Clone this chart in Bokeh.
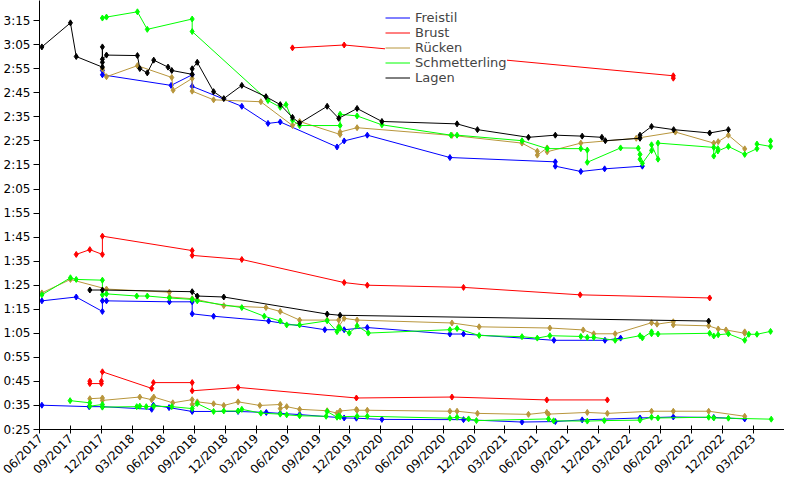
import math
from datetime import datetime
import pandas as pd
from bokeh.plotting import figure
from bokeh.models import (ColumnDataSource, FixedTicker, CustomJSTickFormatter,
                          DatetimeTickFormatter, Legend, LegendItem, Range1d)
from bokeh.embed import file_html
from bokeh.resources import INLINE

# ---------------- data (times in seconds) ----------------
strokes = ["Freistil", "Brust", "Rücken", "Schmetterling", "Lagen"]
stroke_colors = ["#0000ff", "#ff0000", "#b8963c", "#00ff00", "#000000"]

# Freistil
fr50_dates = ["2017-06-08", "2017-10-25", "2017-12-03", "2018-04-27", "2018-05-02", "2018-06-17",
              "2018-08-24", "2019-01-06", "2019-03-30", "2019-05-10", "2019-07-06", "2019-11-14",
              "2019-12-20", "2020-03-04", "2020-10-30", "2021-04-20", "2021-07-27", "2021-10-14",
              "2022-04-02", "2022-07-09", "2022-11-05", "2023-02-04"]
fr50_times = [35.1, 34.5, 34.5, 33.4, 35.1, 34.1, 32.5, 32.5, 32.1, 31.7, 31.2, 29.8,
              29.7, 29.2, 29.1, 28.1, 28.3, 29.0, 29.8, 30.2, 30.0, 29.4]
fr100_dates = ["2017-06-08", "2017-09-17", "2017-12-03", "2017-12-03", "2017-12-15", "2018-06-18",
               "2018-08-24", "2018-08-24", "2018-10-26", "2019-04-06", "2019-09-18", "2019-11-14",
               "2020-01-21", "2020-09-20", "2020-10-30", "2021-07-23", "2021-12-20", "2022-02-04"]
fr100_times = [78.5, 80.1, 74.1, 78.5, 78.5, 78.1, 78.1, 73.1, 72.1, 70.1, 66.5, 66.5,
               67.4, 64.7, 64.7, 62.1, 62.1, 63.0]
fr200_dates = ["2017-12-03", "2017-12-03", "2018-06-23", "2018-08-24", "2018-08-24", "2019-01-17",
               "2019-04-04", "2019-05-10", "2019-10-24", "2019-11-14", "2020-01-21", "2020-09-20",
               "2021-07-27", "2021-07-27", "2021-10-10", "2021-12-19", "2022-04-09"]
fr200_times = [174.3, 172.5, 168.1, 172.5, 167.7, 159.4, 152.3, 152.9, 142.5, 145.0, 147.4, 138.1,
               136.3, 134.5, 132.3, 133.4, 134.5]

# Brust
br50_dates = ["2017-10-27", "2017-10-27", "2017-11-30", "2017-11-30", "2017-12-03", "2018-04-27",
              "2018-05-02", "2018-08-24", "2018-08-24", "2019-01-06", "2019-12-20", "2020-09-26",
              "2021-07-02", "2021-12-27"]
br50_times = [45.1, 44.1, 44.1, 45.1, 49.0, 42.1, 44.5, 44.5, 41.1, 42.5, 38.1, 38.5, 37.3, 37.3]
br100_dates = ["2017-09-17", "2017-10-27", "2017-12-03", "2017-12-03", "2018-08-24", "2018-08-24",
               "2019-01-17", "2019-11-14", "2020-01-21", "2020-10-30", "2021-10-08", "2022-10-24"]
br100_times = [97.8, 99.8, 97.8, 105.4, 99.4, 97.4, 95.7, 86.1, 85.0, 84.1, 81.0, 79.7]
br200_dates = ["2019-06-15", "2019-11-14", "2022-07-09", "2022-07-09"]
br200_times = [183.7, 184.9, 172.1, 171.1]

# Rücken
ru50_dates = ["2017-10-27", "2017-12-03", "2017-12-03", "2018-03-23", "2018-04-27", "2018-05-03",
              "2018-06-28", "2018-08-24", "2018-08-24", "2018-09-08", "2018-10-26", "2018-11-25",
              "2019-01-06", "2019-03-11", "2019-05-10", "2019-05-10", "2019-05-29", "2019-07-06",
              "2019-09-25", "2019-10-24", "2019-11-02", "2019-12-20", "2019-12-22", "2020-01-21",
              "2020-09-20", "2020-10-11", "2020-12-10", "2021-05-09", "2021-07-02", "2021-07-07",
              "2021-10-29", "2021-12-27", "2022-05-06", "2022-07-09", "2022-10-21", "2023-02-04"]
ru50_times = [37.8, 38.1, 37.1, 38.5, 37.4, 38.5, 36.1, 37.4, 35.4, 36.5, 35.7, 35.0,
              36.5, 35.0, 35.4, 33.7, 34.5, 33.4, 32.8, 31.8, 32.7, 33.3, 33.0, 33.0,
              32.6, 32.6, 31.7, 31.3, 32.1, 31.4, 32.1, 31.7, 32.6, 32.6, 32.6, 30.5]
ru100_dates = ["2017-06-08", "2017-08-31", "2017-12-15", "2018-06-18", "2018-06-18", "2018-08-24",
               "2018-09-08", "2018-11-25", "2019-03-29", "2019-05-10", "2019-07-06", "2019-09-25",
               "2019-10-29", "2019-10-29", "2019-11-14", "2019-12-22", "2020-09-26", "2020-12-15",
               "2021-07-11", "2021-10-17", "2021-11-17", "2022-01-19", "2022-05-06", "2022-05-22",
               "2022-07-09", "2022-07-09", "2022-10-21", "2022-11-18", "2022-12-11", "2023-02-04",
               "2023-02-04"]
ru100_times = [81.8, 87.4, 83.4, 82.1, 80.1, 79.4, 79.0, 76.5, 75.7, 74.1, 70.5, 70.5,
               70.5, 67.8, 71.2, 70.5, 69.3, 67.7, 67.2, 66.4, 64.8, 64.8, 69.4, 68.8,
               69.8, 68.5, 68.1, 66.8, 66.4, 65.0, 65.6]
ru200_dates = ["2017-12-03", "2017-12-15", "2018-03-16", "2018-06-25", "2018-06-29", "2018-08-24",
               "2018-08-24", "2018-10-26", "2019-03-14", "2019-06-15", "2019-07-06", "2019-11-02",
               "2019-11-02", "2019-12-22", "2020-09-26", "2021-04-20", "2021-06-04", "2021-06-04",
               "2021-07-03", "2021-07-03", "2021-10-10", "2022-03-22", "2022-07-15", "2022-11-05",
               "2022-11-18", "2022-12-18", "2023-02-04"]
ru200_times = [175.0, 171.7, 176.3, 171.4, 166.1, 171.0, 165.7, 162.1, 161.3, 151.4, 153.1, 147.7,
               148.7, 150.5, 147.3, 144.1, 140.7, 139.1, 142.1, 140.5, 144.1, 146.1, 148.7, 144.1,
               144.7, 147.4, 141.7]

# Schmetterling
sc50_dates = ["2017-08-30", "2017-10-27", "2017-10-27", "2017-12-03", "2017-12-03", "2018-03-14",
              "2018-03-23", "2018-04-11", "2018-05-03", "2018-06-25", "2018-08-24", "2018-09-08",
              "2018-10-26", "2018-11-25", "2019-01-06", "2019-01-17", "2019-03-14", "2019-05-10",
              "2019-05-29", "2019-07-06", "2019-09-22", "2019-09-25", "2019-10-24", "2019-10-29",
              "2019-11-02", "2019-12-22", "2020-01-21", "2020-09-20", "2020-10-11", "2020-11-14",
              "2020-12-07", "2021-07-07", "2021-07-22", "2021-10-29", "2021-12-18", "2022-04-02",
              "2022-05-06", "2022-05-25", "2022-10-21", "2022-11-05", "2022-12-18", "2023-04-23"]
sc50_times = [37.0, 36.1, 34.7, 35.4, 34.3, 34.5, 34.7, 34.5, 34.7, 34.5, 33.7, 35.8,
              32.5, 32.7, 32.7, 33.4, 31.8, 31.4, 31.1, 30.7, 30.5, 32.5, 30.1, 30.7,
              30.3, 30.5, 30.5, 29.7, 30.1, 29.4, 28.7, 29.4, 28.6, 28.5, 28.7, 28.9,
              30.1, 29.8, 30.1, 29.8, 29.7, 29.3]
sc100_dates = ["2017-06-08", "2017-08-31", "2017-09-17", "2017-12-03", "2017-12-03", "2017-12-15",
               "2018-03-14", "2018-04-14", "2018-06-18", "2018-08-24", "2018-09-08", "2019-01-17",
               "2019-03-24", "2019-05-10", "2019-05-29", "2019-07-06", "2019-09-25", "2019-10-24",
               "2019-10-29", "2019-11-02", "2019-11-29", "2019-12-22", "2020-01-24", "2020-09-20",
               "2020-10-11", "2020-12-15", "2021-04-20", "2021-06-04", "2021-07-11", "2021-10-10",
               "2021-10-29", "2021-11-17", "2022-01-19", "2022-04-02", "2022-04-09", "2022-05-06",
               "2022-05-06", "2022-05-25", "2022-10-24", "2022-11-05", "2022-11-18", "2022-12-18",
               "2023-02-04", "2023-02-16", "2023-03-12", "2023-04-21"]
sc100_times = [81.0, 88.1, 87.4, 87.1, 81.0, 81.4, 80.5, 80.5, 79.7, 79.1, 78.5, 75.7,
               72.1, 70.1, 68.5, 68.5, 70.2, 65.7, 67.4, 67.1, 65.1, 68.1, 65.1, 66.5,
               67.0, 64.1, 63.6, 63.0, 64.0, 63.7, 63.3, 63.3, 62.1, 64.0, 63.1, 65.6,
               64.8, 64.7, 65.0, 63.9, 64.4, 64.8, 62.1, 64.6, 64.6, 65.8]
sc200_dates = ["2017-12-03", "2017-12-15", "2018-03-16", "2018-04-14", "2018-08-24", "2018-08-24",
               "2019-04-04", "2019-05-10", "2019-05-27", "2019-06-15", "2019-07-06", "2019-11-02",
               "2019-11-02", "2019-12-22", "2020-03-04", "2020-09-23", "2020-10-11", "2021-04-20",
               "2021-07-03", "2021-10-10", "2021-10-29", "2021-10-29", "2022-02-04", "2022-03-28",
               "2022-04-02", "2022-04-02", "2022-04-09", "2022-05-06", "2022-05-06", "2022-05-25",
               "2022-05-25", "2022-11-05", "2022-11-05", "2022-11-17", "2022-11-17", "2022-12-18",
               "2023-02-04", "2023-03-12", "2023-03-12", "2023-04-21", "2023-04-21"]
sc200_times = [196.1, 196.5, 198.7, 191.4, 195.7, 190.5, 161.8, 159.0, 160.1, 153.6, 151.4, 151.4,
               156.1, 155.4, 151.7, 147.4, 147.4, 145.1, 141.8, 141.8, 141.2, 136.1, 142.1, 142.0,
               139.4, 137.4, 135.7, 141.0, 143.4, 137.4, 144.1, 142.3, 138.7, 141.8, 140.8, 142.7,
               139.4, 141.8, 143.7, 142.7, 145.0]

# Lagen
la100_dates = ["2017-10-27", "2017-12-03", "2018-08-24", "2018-09-08", "2018-11-25", "2019-09-25",
               "2019-11-02", "2022-10-21"]
la100_times = [83.0, 83.0, 82.3, 80.5, 80.1, 73.0, 72.5, 70.1]
la200_dates = ["2017-06-08", "2017-08-31", "2017-09-17", "2017-12-03", "2017-12-03", "2017-12-03",
               "2017-12-03", "2017-12-15", "2018-03-16", "2018-03-23", "2018-04-14", "2018-05-03",
               "2018-06-14", "2018-06-25", "2018-08-24", "2018-08-24", "2018-09-08", "2018-10-26",
               "2018-11-25", "2019-01-17", "2019-03-29", "2019-05-10", "2019-06-15", "2019-07-06",
               "2019-09-25", "2019-10-29", "2019-12-22", "2020-03-04", "2020-10-11", "2020-12-10",
               "2021-05-09", "2021-07-27", "2021-10-14", "2021-12-11", "2021-12-21", "2022-04-02",
               "2022-04-02", "2022-05-06", "2022-07-10", "2022-10-24", "2022-12-18"]
la200_times = [184.1, 194.1, 180.1, 175.7, 184.1, 177.7, 179.0, 180.7, 180.5, 175.1, 173.3, 178.6,
               175.7, 174.3, 172.7, 175.0, 177.7, 165.5, 162.6, 168.1, 163.4, 160.1, 154.8, 152.4,
               159.4, 154.4, 158.5, 153.1, 152.1, 149.7, 146.5, 147.4, 147.0, 146.5, 145.1, 146.1,
               147.4, 151.0, 149.7, 148.3, 149.7]

series = {
    "Freistil": [(fr50_dates, fr50_times), (fr100_dates, fr100_times), (fr200_dates, fr200_times)],
    "Brust": [(br50_dates, br50_times), (br100_dates, br100_times), (br200_dates, br200_times)],
    "Rücken": [(ru50_dates, ru50_times), (ru100_dates, ru100_times), (ru200_dates, ru200_times)],
    "Schmetterling": [(sc50_dates, sc50_times), (sc100_dates, sc100_times), (sc200_dates, sc200_times)],
    "Lagen": [(la100_dates, la100_times), (la200_dates, la200_times)],
}

x_tick_months = ["2017-06-01", "2017-09-01", "2017-12-01", "2018-03-01", "2018-06-01", "2018-09-01",
                 "2018-12-01", "2019-03-01", "2019-06-01", "2019-09-01", "2019-12-01", "2020-03-01",
                 "2020-06-01", "2020-09-01", "2020-12-01", "2021-03-01", "2021-06-01", "2021-09-01",
                 "2021-12-01", "2022-03-01", "2022-06-01", "2022-09-01", "2022-12-01", "2023-03-01"]
y_ticks = [25, 35, 45, 55, 65, 75, 85, 95, 105, 115, 125, 135, 145, 155, 165, 175, 185, 195]
x_start, x_end = "2017-06-01", "2023-06-01"
y_start, y_end = 25, 203.4

# ---------------- figure ----------------
FONT = "DejaVu Sans"
p = figure(width=784, height=484, x_axis_type="datetime", output_backend="svg",
           toolbar_location=None, min_border_left=0, min_border_right=0,
           min_border_top=0, min_border_bottom=0,
           x_range=Range1d(pd.Timestamp(x_start).to_pydatetime(), pd.Timestamp(x_end).to_pydatetime()),
           y_range=Range1d(y_start, y_end))
p.outline_line_color = None
p.grid.visible = False
p.background_fill_color = "white"

legend_items = []
for name, color in zip(strokes, stroke_colors):
    first = None
    for dates, times in series[name]:
        src = ColumnDataSource(dict(x=pd.to_datetime(dates), y=times))
        r = p.line("x", "y", source=src, line_color=color, line_width=1)
        p.scatter("x", "y", source=src, marker="diamond", size=6, color=color)
        if first is None:
            first = r
    legend_items.append(LegendItem(label=name, renderers=[first]))

# axes
xa = p.xaxis[0]
xa.ticker = FixedTicker(ticks=[pd.Timestamp(d).timestamp() * 1000 for d in x_tick_months])
fmt = "%m/%Y"
xa.formatter = DatetimeTickFormatter(microseconds=fmt, milliseconds=fmt, seconds=fmt, minsec=fmt,
                                     minutes=fmt, hourmin=fmt, hours=fmt, days=fmt, months=fmt, years=fmt)
xa.major_label_orientation = math.pi / 4
xa.major_tick_in = 4
xa.major_tick_out = 4
xa.minor_tick_line_color = None
xa.major_label_standoff = 3
xa.axis_label_standoff = 0

ya = p.yaxis[0]
ya.ticker = FixedTicker(ticks=y_ticks)
ya.formatter = CustomJSTickFormatter(code="""
    const m = Math.floor(tick / 60);
    const s = Math.round(tick - 60 * m);
    return m + ':' + (s < 10 ? '0' : '') + s;
""")
ya.major_tick_in = 0
ya.major_tick_out = 6
ya.minor_tick_line_color = None
ya.major_label_standoff = 3
ya.axis_label_standoff = 0

for ax in (xa, ya):
    ax.axis_line_color = "black"
    ax.major_tick_line_color = "black"
    ax.major_label_text_font = FONT
    ax.major_label_text_font_size = "12px"
    ax.major_label_text_color = "black"

legend = Legend(items=legend_items, location=(346, 344))
legend.border_line_color = None
legend.background_fill_color = "white"
legend.background_fill_alpha = 1.0
legend.glyph_width = 25
legend.glyph_height = 13
legend.label_height = 13
legend.label_standoff = 5
legend.spacing = 0
legend.padding = 4
legend.margin = 0
legend.label_text_font = FONT
legend.label_text_font_size = "13px"
legend.label_text_baseline = "middle"
p.add_layout(legend)

open("out.html", "w").write(file_html(p, INLINE))
